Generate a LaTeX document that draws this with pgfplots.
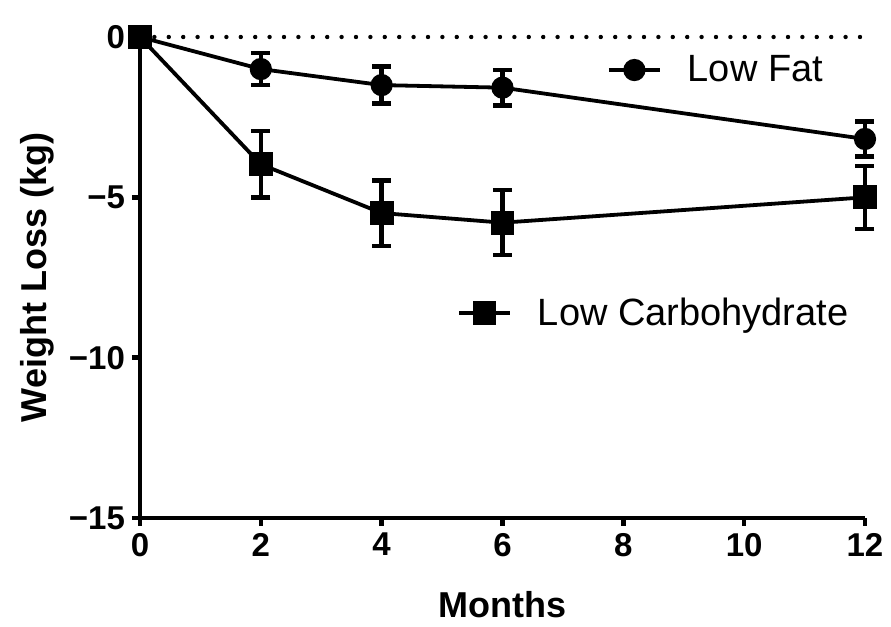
\documentclass[border=0pt]{standalone}
\usepackage{fontspec}
\setmainfont{Liberation Sans}
\usepackage{pgfplots}
\pgfplotsset{compat=1.18}

\pgfplotsset{
  lf/.style={black, line width=1.9pt, mark=*, mark size=4.6pt, mark options={solid}},
  lc/.style={black, line width=1.9pt, mark=square*, mark size=5pt, mark options={solid}},
  ebars/.style={error bars/.cd, y dir=both, y explicit,
    error bar style={line width=2.2pt, black},
    error mark options={rotate=90, mark size=4.75pt, line width=2.2pt, black}},
  base/.style={
    scale only axis, width=362.5pt, height=240.5pt,
    xmin=0, xmax=12, ymin=-15, ymax=0, clip=false,
  },
  legend image code/.code={%
    \draw[mark repeat=2, mark phase=2, #1] plot coordinates {(0pt,0pt) (12.75pt,0pt) (25.5pt,0pt)};},
  leg/.style={legend style={draw=none, fill=none, inner sep=0pt, outer sep=0pt,
    font=\fontsize{19}{19}\selectfont, legend cell align=left,
    nodes={inner sep=2pt},
    /tikz/every odd column/.append style={column sep=11pt}}},
}

\begin{document}
\begin{tikzpicture}
\begin{axis}[
  base, leg,
  axis x line=bottom, axis y line=left,
  axis line style={line width=2.3pt, -},
  tick style={line width=2.2pt, black},
  major tick length=4pt, tick align=outside,
  xtick={0,2,4,6,8,10,12},
  ytick={-15,-10,-5,0}, yticklabels={−15,−10,−5,0},
  tick label style={font=\fontsize{16.5}{16.5}\selectfont\bfseries},
  /pgf/number format/assume math mode=true,
  xlabel={Months}, ylabel={Weight Loss (kg)},
  xlabel style={font=\fontsize{18}{18}\selectfont\bfseries, at={(axis description cs:0.5,-0.181)}, anchor=center},
  ylabel style={font=\fontsize{18}{18}\selectfont\bfseries, at={(axis description cs:-0.142,0.5)}, anchor=center},
  legend style={at={(axis cs:7.73,-1.03)}, anchor=west},
]
\addplot[forget plot, black, line width=2.2pt, line cap=round, dash pattern=on 0pt off 7.2pt]
  coordinates {(0,0) (12,0)};
\addplot[lf, ebars] coordinates {
  (0,0) +- (0,0)
  (2,-1.0) +- (0,0.5)
  (4,-1.5) +- (0,0.58)
  (6,-1.58) +- (0,0.55)
  (12,-3.18) +- (0,0.55)
};
\addlegendentry{Low Fat}
\addplot[forget plot, lc, ebars] coordinates {
  (0,0) +- (0,0)
  (2,-3.97) +- (0,1.03)
  (4,-5.49) +- (0,1.02)
  (6,-5.79) +- (0,1.01)
  (12,-5.0) +- (0,0.98)
};
\end{axis}
\begin{axis}[base, leg, hide axis,
  legend style={at={(axis cs:5.25,-8.6)}, anchor=west}]
\addlegendimage{lc}
\addlegendentry{Low Carbohydrate}
\end{axis}
\pgfresetboundingbox
\path ([shift={(-70pt,-54.5pt)}]current axis.south west) rectangle ++(445.5pt,313.5pt);
\end{tikzpicture}
\end{document}
